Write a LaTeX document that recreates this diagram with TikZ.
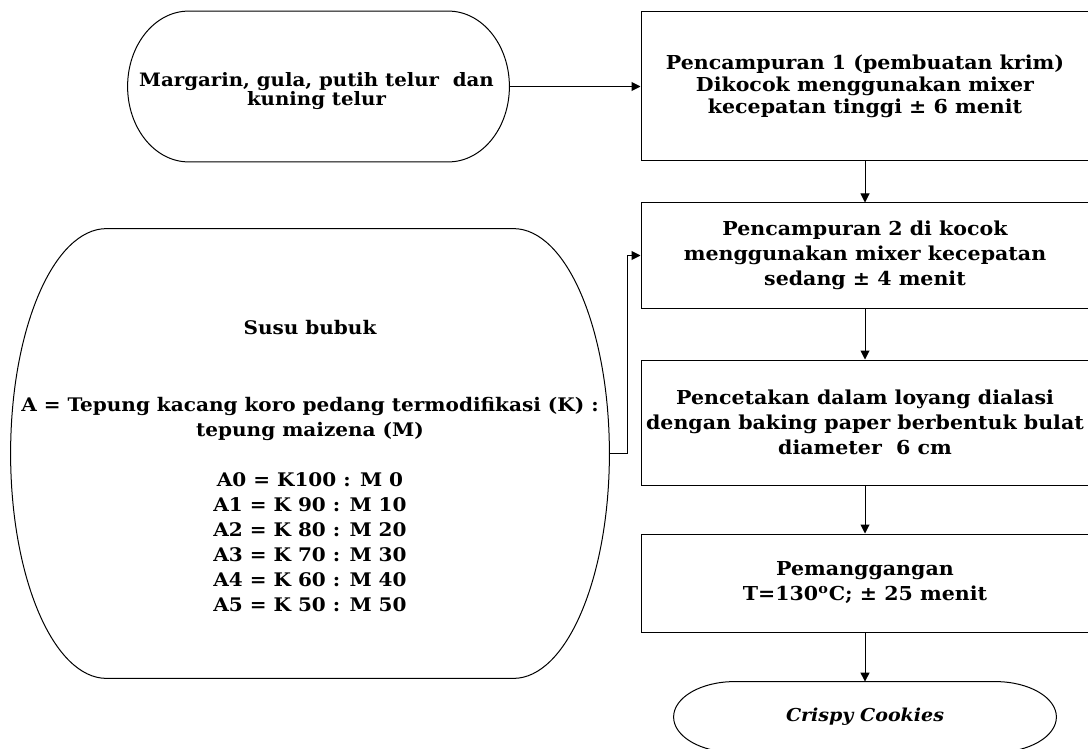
\documentclass[tikz,border=0pt]{standalone}
\usepackage{fontspec}
\setmainfont{DejaVu Serif}[FakeStretch=1.07]
\usetikzlibrary{positioning,calc,arrows.meta}

% outline of a terminal shape round node #1, end radius #2
\newcommand\termline[2]{%
  \draw[line width=0.5pt] let \p1=(#1.north west), \p2=(#1.south east), \n1={(\y1-\y2)/2} in
    (\x1+#2,\y1) -- (\x2-#2,\y1)
    arc[start angle=90, end angle=-90, x radius=#2, y radius={\n1*1pt}]
    -- (\x1+#2,\y2)
    arc[start angle=270, end angle=90, x radius=#2, y radius={\n1*1pt}] -- cycle;}

\begin{document}
\begin{tikzpicture}[x=0.5pt,y=-0.5pt]
	\tikzstyle{every node}+=[inner sep=0pt]
	\tikzstyle{stepbox}=[rectangle, draw, line width=0.5pt, align=center, minimum width=224pt, font=\bfseries\fontsize{9.6}{12.5}\selectfont]
	\tikzstyle{term}=[rectangle, align=center, font=\bfseries\fontsize{9.36}{12.5}\selectfont]
	\tikzstyle{arr}=[-{Triangle[length=4.5pt,width=4.5pt]}, line width=0.5pt]
	\useasboundingbox (0,0) rectangle (1088,749);
	% inputs
	\node[term, minimum width=190.5pt, minimum height=75pt] (marg) at (318.5,86.5) {};
	\termline{marg}{30.5pt}
	\node[term, font=\bfseries\fontsize{9.23}{9.2}\selectfont] (margtext) at (316.5,91) {Margarin, gula, putih telur~ dan\\kuning telur};
	\node[term, minimum width=299pt, minimum height=224.5pt] (susu) at (310,453.5) {};
	\termline{susu}{48pt}
	\node[term] (susutext) at (310,466.5) {Susu bubuk\\[26pt]
		A = Tepung kacang koro pedang termodifikasi (K) :\\
		tepung maizena (M)\\[12.5pt]
		A0 = K100 : M 0\\
		A1 = K 90 : M 10\\
		A2 = K 80 : M 20\\
		A3 = K 70 : M 30\\
		A4 = K 60 : M 40\\
		A5 = K 50 : M 50};
	% process steps
	\node[stepbox, minimum height=74.5pt, font=\bfseries\fontsize{9.6}{10.85}\selectfont] (mix1) at (865,86.5) {Pencampuran 1 (pembuatan krim)\\Dikocok menggunakan mixer\\kecepatan tinggi ± 6 menit};
	\node[stepbox, minimum height=52.5pt] (mix2) at (865,255.5) {Pencampuran 2 di kocok\\menggunakan mixer kecepatan\\sedang ± 4 menit};
	\node[stepbox, minimum height=62.5pt] (cetak) at (865,422.5) {Pencetakan dalam loyang dialasi\\dengan baking paper berbentuk bulat\\diameter~ 6 cm};
	\node[stepbox, minimum height=49pt] (panggang) at (865,583) {Pemanggangan\\T=130\textsuperscript{o}C; ± 25 menit};
	\node[term, minimum width=191pt, minimum height=35pt, font=\bfseries\itshape\fontsize{8.9}{12.5}\selectfont] (cookies) at (865,717) {Crispy Cookies};
	\termline{cookies}{30.5pt}
	% arrows
	\draw[arr] (marg) -- (mix1);
	\draw[arr] (mix1) -- (mix2);
	\draw[arr] (susu.east) -- ++(18,0) |- (mix2.west);
	\draw[arr] (mix2) -- (cetak);
	\draw[arr] (cetak) -- (panggang);
	\draw[arr] (panggang) -- (cookies);
\end{tikzpicture}
\end{document}
